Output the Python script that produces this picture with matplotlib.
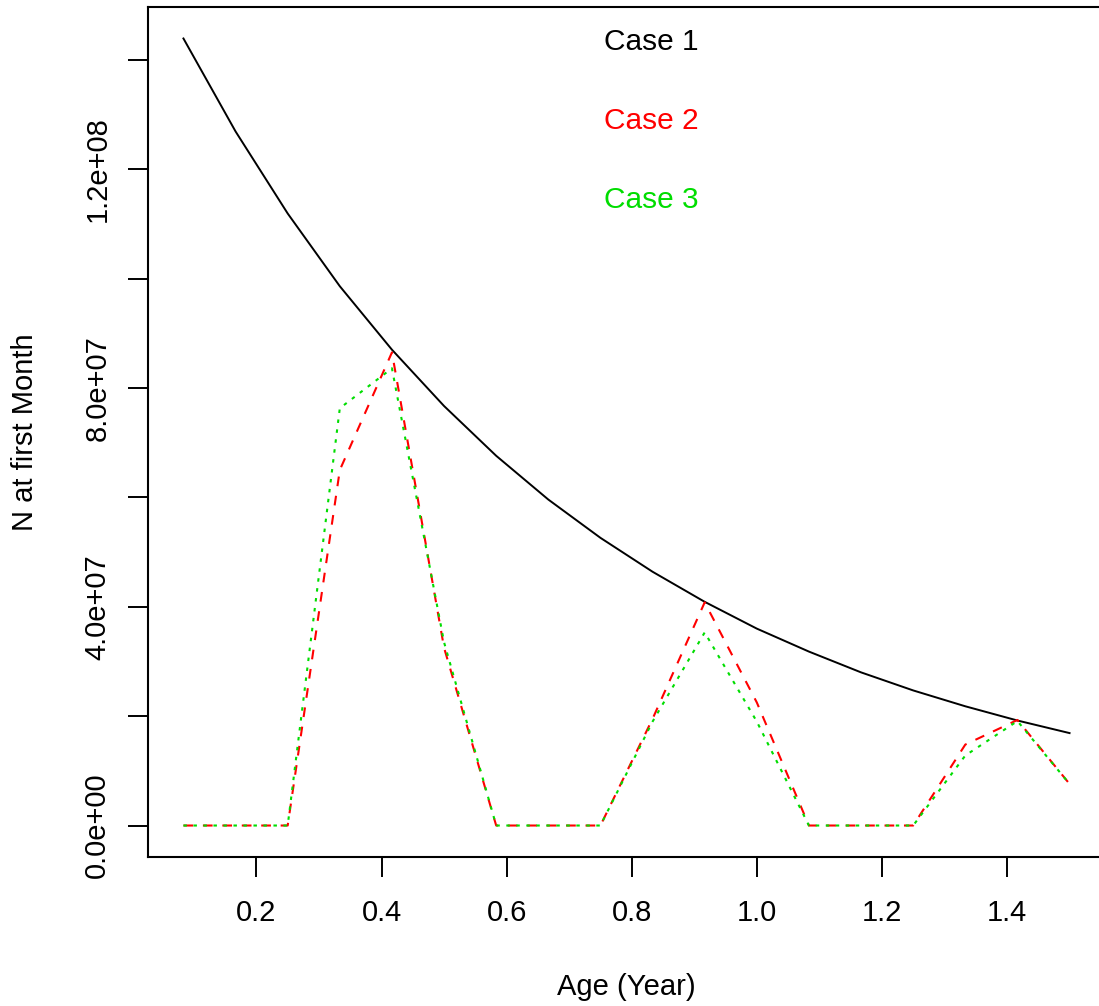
import numpy as np
import matplotlib
matplotlib.use("Agg")
import matplotlib.pyplot as plt

plt.rcParams['font.family'] = ['Liberation Sans', 'DejaVu Sans']
plt.rcParams['lines.scale_dashes'] = False

# month index of each age class, age in years = month / 12
months = [1, 2, 3, 4, 5, 6, 7, 8, 9, 10, 11, 12, 13, 14, 15, 16, 17, 18]

# N at first month (millions)
case1 = [143.9, 126.9, 111.9, 98.6, 87.0, 76.7, 67.6, 59.6, 52.6,
         46.4, 40.9, 36.0, 31.8, 28.0, 24.7, 21.8, 19.2, 16.9]
case2 = [0, 0, 0, 65.0, 86.5, 32.5, 0, 0, 0,
         19.5, 40.8, 22.5, 0, 0, 0, 14.8, 19.3, 7.6]
case3 = [0, 0, 0, 76.3, 83.6, 33.5, 0, 0, 0,
         19.0, 35.3, 19.0, 0, 0, 0, 12.8, 19.1, 7.6]

case_names = ['Case 1', 'Case 2', 'Case 3']
case_colors = ['black', '#ff0000', '#00dd00']

xticks = [0.2, 0.4, 0.6, 0.8, 1.0, 1.2, 1.4]
xtick_labels = ['0.2', '0.4', '0.6', '0.8', '1.0', '1.2', '1.4']
yticks = [0, 2e7, 4e7, 6e7, 8e7, 1e8, 1.2e8, 1.4e8]
ytick_labels = ['0.0e+00', '', '4.0e+07', '', '8.0e+07', '', '1.2e+08', '']

age = np.array(months) / 12
n1 = np.array(case1) * 1e6
n2 = np.array(case2) * 1e6
n3 = np.array(case3) * 1e6

fig = plt.figure(figsize=(10.99, 10.06), dpi=100)
# axes box runs past the right edge, like the cropped original
ax = fig.add_axes([148 / 1099, 149 / 1006, 957 / 1099, 850 / 1006])

ax.plot(age, n1, color=case_colors[0], lw=1.4)
ax.plot(age, n2, color=case_colors[1], lw=1.5, dashes=(7, 7))
ax.plot(age, n3, color=case_colors[2], lw=1.5, dashes=(2.5, 4.7))

# R-style 4% padding around the data range
xr = age.max() - age.min()
ax.set_xlim(age.min() - 0.04 * xr, age.max() + 0.04 * xr)
yr = n1.max()
ax.set_ylim(-0.04 * yr, n1.max() + 0.04 * yr)

ax.set_xticks(xticks)
ax.set_xticklabels(xtick_labels)
ax.set_yticks(yticks)
ax.set_yticklabels(ytick_labels, rotation=90, va='center')

ax.tick_params(axis='both', direction='out', length=14.4, width=1.4,
               labelsize=21)
ax.tick_params(axis='x', pad=16)
ax.tick_params(axis='y', pad=12)

for s in ax.spines.values():
    s.set_linewidth(1.5)

ax.set_xlabel('Age (Year)', fontsize=21, labelpad=33)
ax.set_ylabel('N at first Month', fontsize=21, labelpad=32)

for i, (name, col) in enumerate(zip(case_names, case_colors)):
    ax.text(0.4765, 0.9588 - i * 0.0927, name, color=col, fontsize=21.5,
            ha='left', va='center', transform=ax.transAxes)

fig.savefig('out.png', dpi=100)
